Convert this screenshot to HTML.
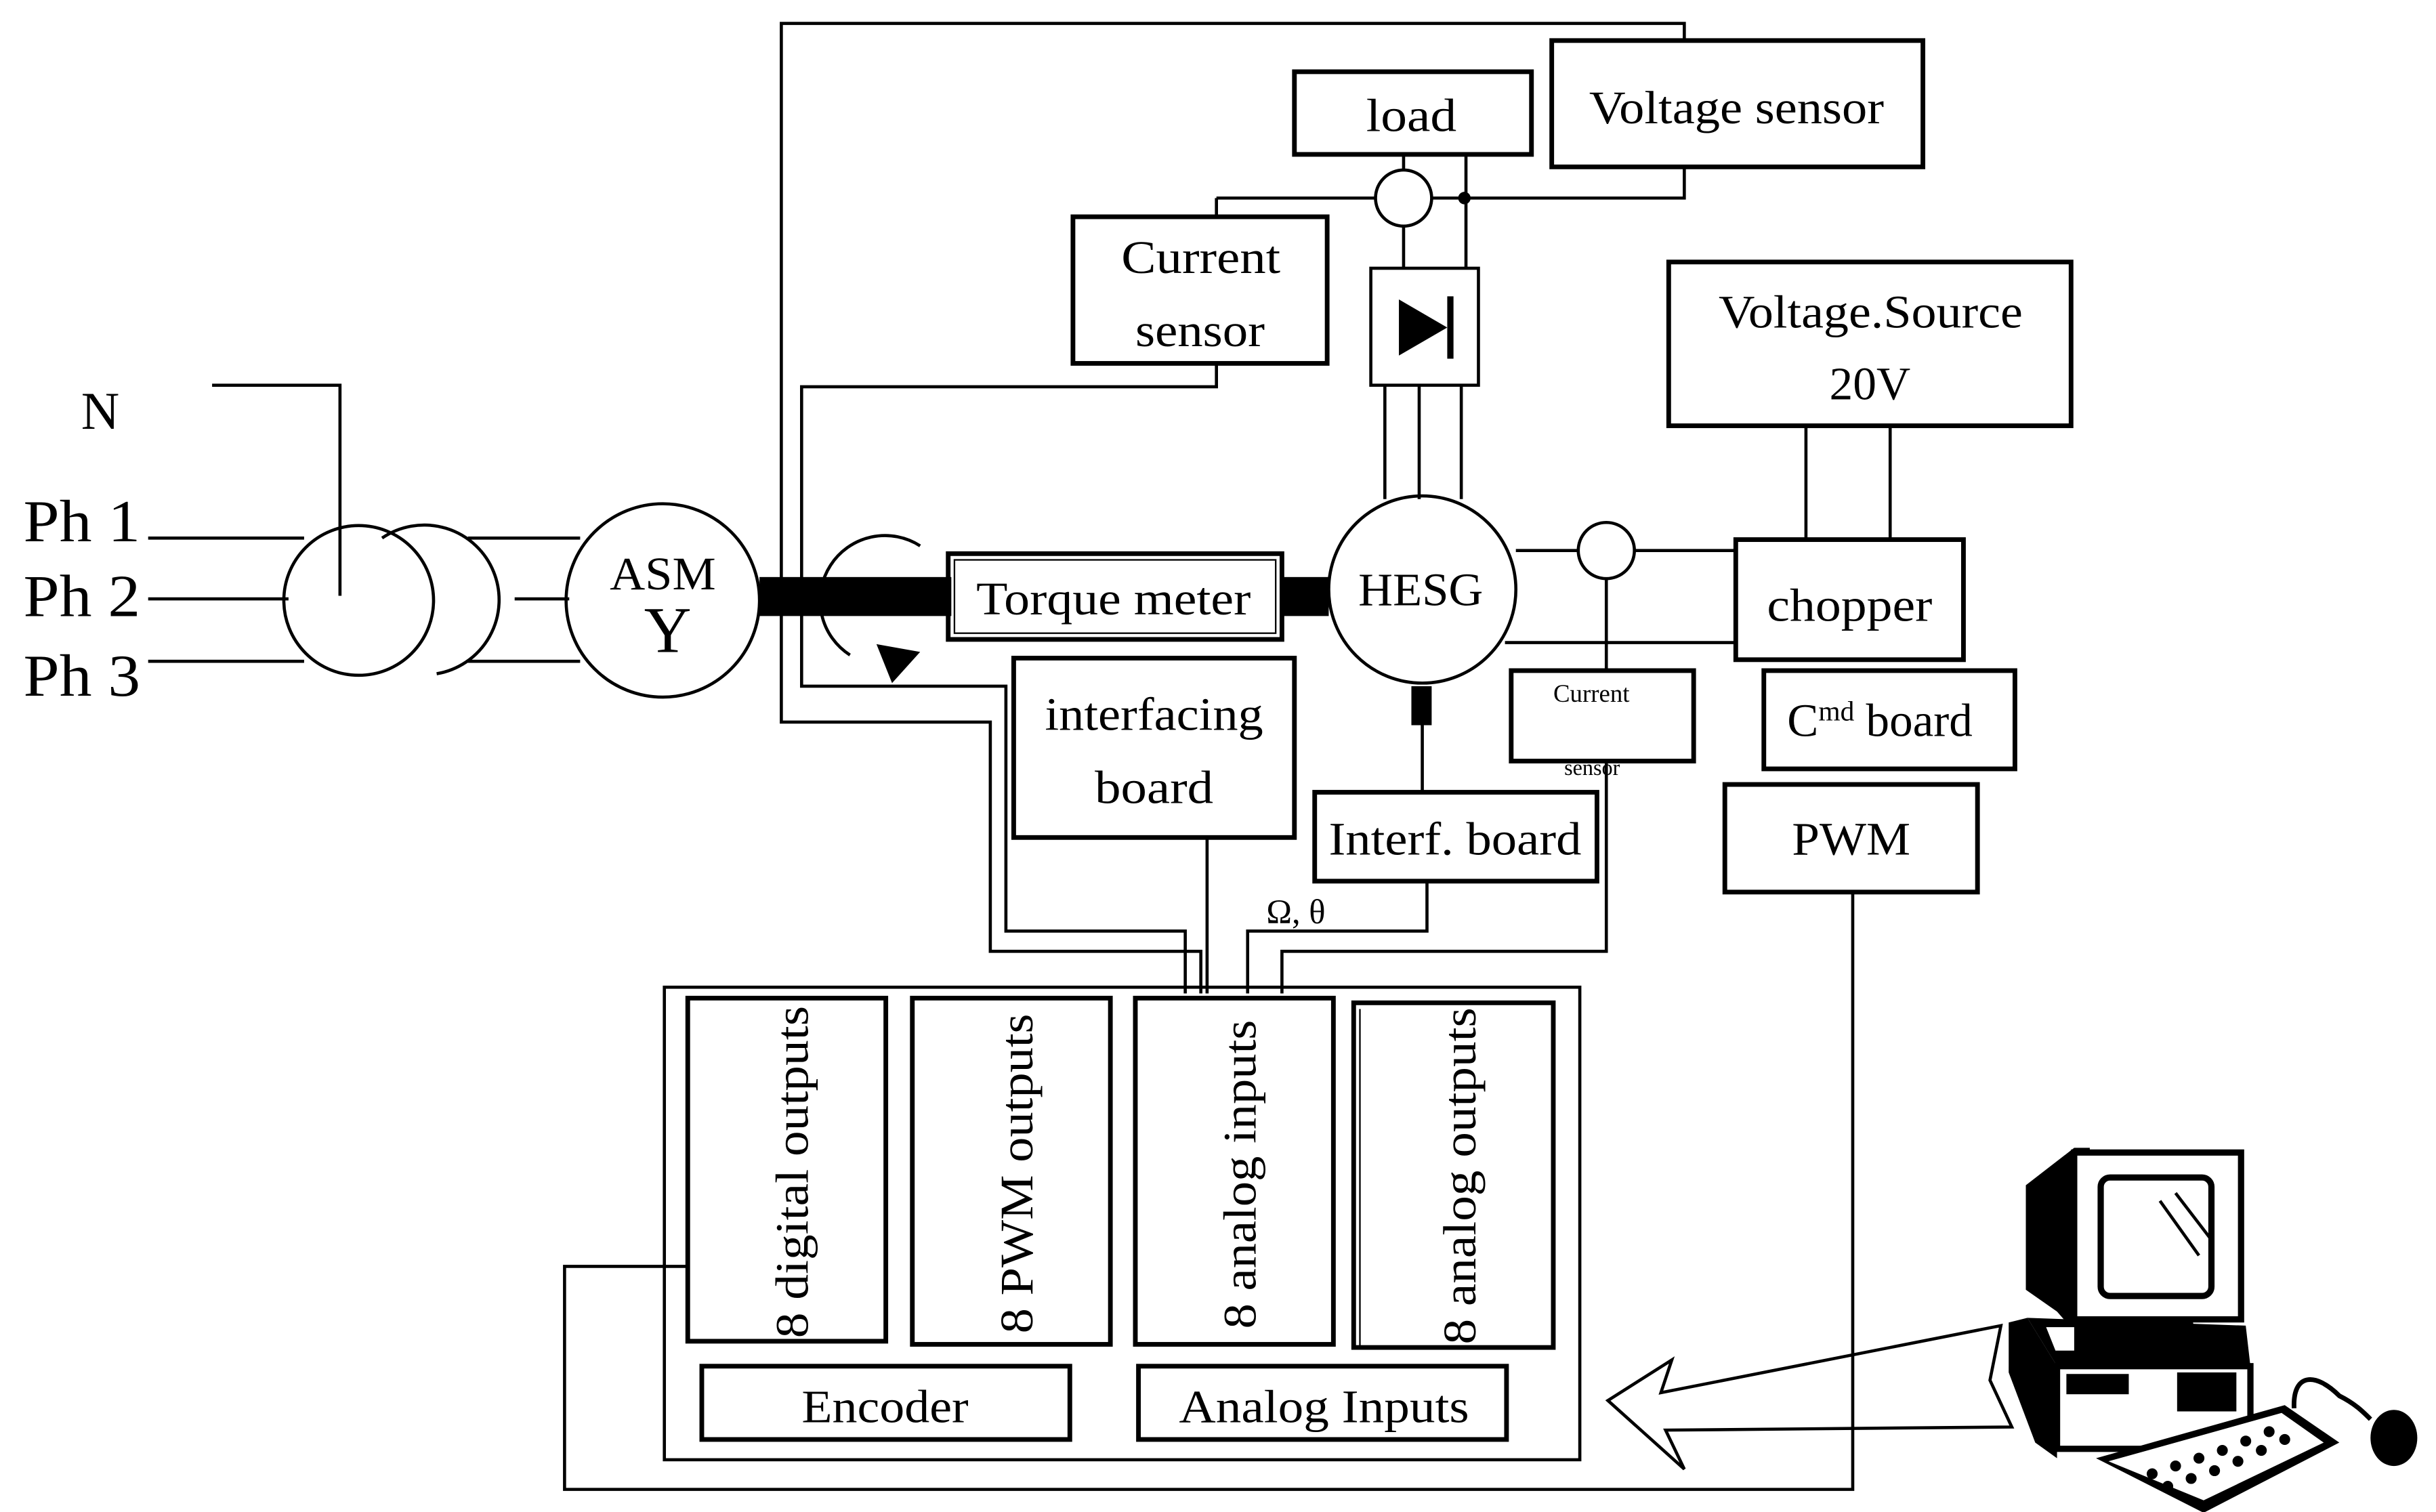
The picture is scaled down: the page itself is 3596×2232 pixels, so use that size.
<!DOCTYPE html>
<html><head><meta charset="utf-8"><style>
html,body{margin:0;padding:0;background:#fff;}
svg{display:block;}
text{font-family:"Liberation Serif",serif;fill:#000;}
</style></head><body>
<svg width="3596" height="2232" viewBox="0 0 1562 969.5" preserveAspectRatio="none" xmlns="http://www.w3.org/2000/svg">
<rect width="1562" height="970" fill="#fff"/>
<g fill="none" stroke="#000" stroke-width="2">
<!-- top frame -->
<polyline points="1080,26 1080,15 501,15 501,463 635,463 635,610 770,610 770,637"/>
<polyline points="1080,107 1080,127 940,127"/>
<rect x="830" y="46" width="152" height="53" stroke-width="3"/>
<rect x="995" y="26" width="238" height="81" stroke-width="3"/>
<circle cx="900" cy="127" r="18"/>
<line x1="780" y1="127" x2="882" y2="127"/>
<line x1="918" y1="127" x2="940" y2="127"/>
<line x1="780" y1="127" x2="780" y2="139"/>
<line x1="900" y1="99" x2="900" y2="109"/>
<line x1="900" y1="145" x2="900" y2="172"/>
<line x1="940" y1="99" x2="940" y2="172"/>
<rect x="688" y="139" width="163" height="94" stroke-width="3"/>
<rect x="879" y="172" width="69" height="75"/>
<line x1="888" y1="247" x2="888" y2="320"/>
<line x1="910" y1="247" x2="910" y2="320"/>
<line x1="937" y1="247" x2="937" y2="320"/>
<polyline points="780,233 780,248 514,248 514,440 645,440 645,597 760,597 760,637"/>
<polyline points="136,247 218,247 218,382"/>
<line x1="95" y1="345" x2="195" y2="345"/>
<line x1="95" y1="384" x2="185" y2="384"/>
<line x1="95" y1="424" x2="195" y2="424"/>
<circle cx="230" cy="385" r="48"/>
<path d="M245,345 A48,48 0 1 1 280,432"/>
<line x1="300" y1="345" x2="372" y2="345"/>
<line x1="330" y1="384" x2="365" y2="384"/>
<line x1="300" y1="424" x2="372" y2="424"/>
<circle cx="425" cy="385" r="62"/>
<path d="M545,420 A38,38 0 0 1 590,350"/>
<rect x="608" y="355" width="214" height="55" stroke-width="3"/>
<rect x="612" y="359" width="206" height="47" stroke-width="1"/>
<circle cx="912" cy="378" r="60"/>
<line x1="912" y1="465" x2="912" y2="508"/>
<rect x="650" y="422" width="180" height="115" stroke-width="3"/>
<line x1="774" y1="537" x2="774" y2="637"/>
<rect x="843" y="508" width="181" height="57" stroke-width="3"/>
<polyline points="915,565 915,597 800,597 800,637"/>
<rect x="969" y="430" width="117" height="58" stroke-width="3"/>
<circle cx="1030" cy="353" r="18"/>
<line x1="972" y1="353" x2="1012" y2="353"/>
<line x1="1048" y1="353" x2="1113" y2="353"/>
<line x1="965" y1="412" x2="1113" y2="412"/>
<line x1="1030" y1="371" x2="1030" y2="430"/>
<polyline points="1030,488 1030,610 822,610 822,637"/>
<rect x="1070" y="168" width="258" height="105" stroke-width="3"/>
<line x1="1158" y1="273" x2="1158" y2="346"/>
<line x1="1212" y1="273" x2="1212" y2="346"/>
<rect x="1113" y="346" width="146" height="77" stroke-width="3"/>
<rect x="1131" y="430" width="161" height="63" stroke-width="3"/>
<rect x="1106" y="503" width="162" height="69" stroke-width="3"/>
<polyline points="1188,572 1188,955 362,955 362,812 440,812"/>
<rect x="426" y="633" width="587" height="303"/>
<rect x="441" y="640" width="127" height="220" stroke-width="3"/>
<rect x="585" y="640" width="127" height="222" stroke-width="3"/>
<rect x="728" y="640" width="127" height="222" stroke-width="3"/>
<rect x="868" y="643" width="128" height="221" stroke-width="3"/>
<line x1="872" y1="647" x2="872" y2="864" stroke-width="1"/>
<rect x="450" y="876" width="236" height="47" stroke-width="3"/>
<rect x="730" y="876" width="236" height="47" stroke-width="3"/>
<polygon points="1283,850 1276,885 1290,915 1068,917 1080,942 1031,898 1072,872 1065,893"/>
</g>
<g fill="#000">
<polygon points="897,192 897,228 928,210"/>
<rect x="928" y="190" width="4" height="40"/>
<rect x="487" y="370" width="123" height="25"/>
<rect x="822" y="370" width="30" height="25"/>
<polygon points="562,413 590,418 572,438"/>
<rect x="905" y="440" width="13" height="25"/>
<circle cx="939" cy="127" r="4"/>
<!-- computer -->
<polygon points="1330,736 1299,760 1299,827 1319,841 1326,849 1340,849 1340,736"/>
<rect x="1330" y="739" width="107" height="107" fill="#fff" stroke="#000" stroke-width="4"/>
<rect x="1347" y="755" width="71" height="76" rx="6" fill="#fff" stroke="#000" stroke-width="4"/>
<polygon points="1340,847 1406,847 1410,866 1336,866"/>
<polygon points="1288,848 1300,845 1319,876 1319,935 1305,925 1288,880"/>
<polygon points="1300,845 1440,850 1443,876 1319,876"/>
<polygon points="1312,851 1330,851 1330,866 1318,866" fill="#fff"/>
<rect x="1319" y="876" width="124" height="53" fill="#fff" stroke="#000" stroke-width="4"/>
<rect x="1325" y="881" width="40" height="13"/>
<rect x="1396" y="880" width="38" height="25"/>
<polygon points="1344,935 1465,901 1500,925 1413,970"/>
<polygon points="1352,937 1463,906 1490,925 1413,962" fill="#fff"/>
<path d="M1471,903 C1470,880 1485,880 1500,895 C1510,900 1515,905 1520,910" fill="none" stroke="#000" stroke-width="3"/>
<ellipse cx="1535" cy="922" rx="15" ry="18"/>
</g>
<g fill="#000">
<circle cx="1380" cy="945" r="3.5"/><circle cx="1395" cy="940" r="3.5"/><circle cx="1410" cy="935" r="3.5"/><circle cx="1425" cy="930" r="3.5"/><circle cx="1440" cy="924" r="3.5"/><circle cx="1455" cy="918" r="3.5"/>
<circle cx="1390" cy="953" r="3.5"/><circle cx="1405" cy="948" r="3.5"/><circle cx="1420" cy="943" r="3.5"/><circle cx="1435" cy="937" r="3.5"/><circle cx="1450" cy="930" r="3.5"/><circle cx="1465" cy="923" r="3.5"/>
</g>
<g stroke="#000" stroke-width="2">
<line x1="1385" y1="770" x2="1410" y2="805"/><line x1="1395" y1="765" x2="1418" y2="795"/>
</g>
<g font-size="30">
<text x="876" y="84" textLength="58" lengthAdjust="spacingAndGlyphs">load</text>
<text x="1019" y="79" textLength="189" lengthAdjust="spacingAndGlyphs">Voltage sensor</text>
<text x="719" y="175" textLength="102" lengthAdjust="spacingAndGlyphs">Current</text>
<text x="728" y="222" textLength="83" lengthAdjust="spacingAndGlyphs">sensor</text>
<text x="1102" y="210" textLength="195" lengthAdjust="spacingAndGlyphs">Voltage.Source</text>
<text x="1173" y="256" textLength="52" lengthAdjust="spacingAndGlyphs">20V</text>
<text x="52" y="275" font-size="34">N</text>
<text x="15" y="347" font-size="38" textLength="75" lengthAdjust="spacingAndGlyphs">Ph 1</text>
<text x="15" y="395" font-size="38" textLength="75" lengthAdjust="spacingAndGlyphs">Ph 2</text>
<text x="15" y="446" font-size="38" textLength="75" lengthAdjust="spacingAndGlyphs">Ph 3</text>
<text x="391" y="378" textLength="68" lengthAdjust="spacingAndGlyphs">ASM</text>
<text x="413" y="418" font-size="42">Y</text>
<text x="626" y="394" textLength="176" lengthAdjust="spacingAndGlyphs">Torque meter</text>
<text x="871" y="388" textLength="80" lengthAdjust="spacingAndGlyphs">HESG</text>
<text x="670" y="468" textLength="140" lengthAdjust="spacingAndGlyphs">interfacing</text>
<text x="702" y="515" textLength="76" lengthAdjust="spacingAndGlyphs">board</text>
<text x="852" y="548" textLength="162" lengthAdjust="spacingAndGlyphs">Interf. board</text>
<text x="1133" y="398" textLength="106" lengthAdjust="spacingAndGlyphs">chopper</text>
<text x="1146" y="472">C<tspan font-size="18" dy="-10">md</tspan><tspan dy="10"> board</tspan></text>
<text x="1149" y="548" textLength="76" lengthAdjust="spacingAndGlyphs">PWM</text>
<text x="812" y="592" font-size="22">Ω, θ</text>
<text x="514" y="912" textLength="107" lengthAdjust="spacingAndGlyphs">Encoder</text>
<text x="756" y="912" textLength="186" lengthAdjust="spacingAndGlyphs">Analog Inputs</text>
<text transform="translate(518,858) rotate(-90)" textLength="213" lengthAdjust="spacingAndGlyphs">8 digital outputs</text>
<text transform="translate(662,855) rotate(-90)" textLength="205" lengthAdjust="spacingAndGlyphs">8 PWM outputs</text>
<text transform="translate(805,852) rotate(-90)" textLength="198" lengthAdjust="spacingAndGlyphs">8 analog inputs</text>
<text transform="translate(946,862) rotate(-90)" textLength="216" lengthAdjust="spacingAndGlyphs">8 analog outputs</text>
</g>
<text x="996" y="450" font-size="16">Current</text>
<text x="1003" y="497" font-size="14">sensor</text>
</svg>
</body></html>
